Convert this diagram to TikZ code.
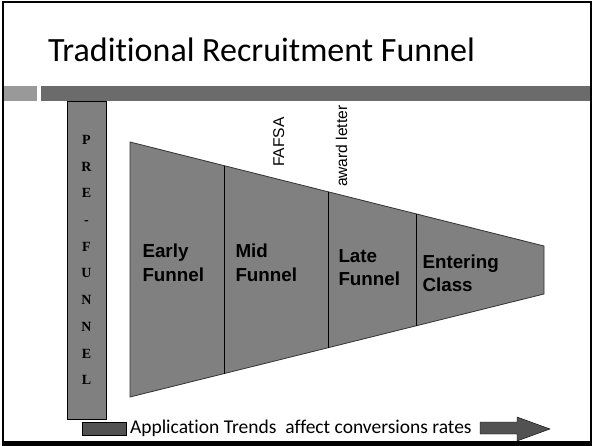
\documentclass[tikz,border=0pt]{standalone}
\usepackage{fontspec}
\setmainfont{Carlito}[Ligatures=NoCommon]
\newfontfamily\arialfont{Liberation Sans}
\newfontfamily\timesfont{Liberation Serif}
\usetikzlibrary{calc}

\begin{document}
\begin{tikzpicture}[x=1pt, y=-1pt]
    \tikzstyle{every node}=[inner sep=0pt, outer sep=0pt]
    \tikzstyle{stage}=[align=left, anchor=north west, font=\arialfont\bfseries\fontsize{18.8}{23.5}\selectfont]
    \tikzstyle{milestone}=[rotate=90, anchor=base west, font=\arialfont\fontsize{15.6}{18}\selectfont]
    \tikzstyle{prebox}=[draw=black, fill=gray!100, minimum width=39pt, minimum height=318pt, align=center, font=\timesfont\bfseries\fontsize{14}{26.7}\selectfont]
    \useasboundingbox (0,0) rectangle (592,446);
    \fill[white] (0,0) rectangle (592,446);
    \draw[line width=2pt] (3,2) rectangle (590.5,442);
    \fill[black] (2,441) rectangle (591.5,446);
    \node[anchor=base west, font=\fontsize{34}{40}\selectfont] (title) at (48,62) {Traditional Recruitment Funnel};
    \fill[gray!80] (4,86) rectangle (37,101);
    \fill[black!58] (41,86) rectangle (590,101);
    \node[prebox] (prefunnel) at (86.5,260) {P\\R\\E\\-\\F\\U\\N\\N\\E\\L};
    \coordinate (tl) at (130,142); \coordinate (tr) at (544,246);
    \coordinate (bl) at (130,397); \coordinate (br) at (544,294);
    \filldraw[fill=gray, draw=black!80, line width=0.8pt] (tl) -- (tr) -- (br) -- (bl) -- cycle;
    \draw[line width=0.8pt] ($(tl)!0.2271!(tr)$) -- ($(bl)!0.2271!(br)$);
    \draw[line width=0.8pt] ($(tl)!0.4783!(tr)$) -- ($(bl)!0.4783!(br)$);
    \draw[line width=0.8pt] ($(tl)!0.6908!(tr)$) -- ($(bl)!0.6908!(br)$);
    \node[stage] (early) at (142.5,244) {Early\\Funnel};
    \node[stage] (mid) at (235.5,244) {Mid\\Funnel};
    \node[stage] (late) at (338.5,249.5) {Late\\Funnel};
    \node[stage] (entering) at (422.5,254.5) {Entering\\Class};
    \node[milestone] (fafsa) at (284,167) {FAFSA};
    \node[milestone] (award) at (347,187) {award letter};
    \node[draw=black, fill=black!68, minimum width=44pt, minimum height=13pt] (legendbox) at (104,428.5) {};
    \node[anchor=base west, font=\fontsize{19.5}{22}\selectfont] (trends) at (130,433.5) {Application Trends~ affect conversions rates};
    \coordinate (tip) at (550,429);
    \filldraw[fill=black!68, draw=black] (480,422) -- (517,422) -- (517,417) -- (tip) -- (517,441) -- (517,434) -- (480,434) -- cycle;
\end{tikzpicture}
\end{document}
